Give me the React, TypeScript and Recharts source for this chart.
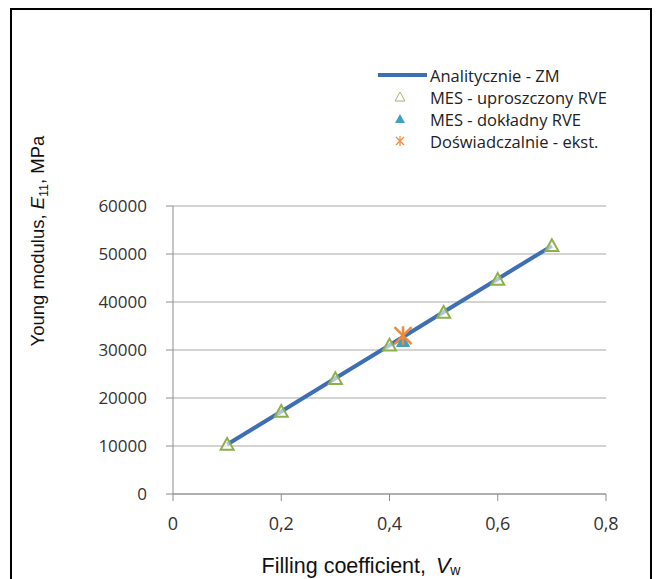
import React from 'react';
import { ScatterChart, Scatter, XAxis, YAxis, CartesianGrid, Legend, Label } from 'recharts';

const fillingCoeff = [0.1, 0.2, 0.3, 0.4, 0.5, 0.6, 0.7];
const analyticValues = [10300, 17200, 24100, 31000, 37900, 44800, 51700];
const simplifiedValues = [10300, 17200, 24000, 31000, 37800, 44700, 51700];
const exactX = [0.425];
const exactValues = [31800];
const experimentX = [0.425];
const experimentValues = [33000];
const xTicks = [0, 0.2, 0.4, 0.6, 0.8];
const yTicks = [0, 10000, 20000, 30000, 40000, 50000, 60000];

const legendNames = [
  'Analitycznie - ZM',
  'MES - uproszczony RVE',
  'MES - dokładny RVE',
  'Doświadczalnie - ekst.',
];

const analyticData = fillingCoeff.map((x, i) => ({ x, y: analyticValues[i] }));
const simplifiedData = fillingCoeff.map((x, i) => ({ x, y: simplifiedValues[i] }));
const exactData = exactX.map((x, i) => ({ x, y: exactValues[i] }));
const experimentData = experimentX.map((x, i) => ({ x, y: experimentValues[i] }));

const BLUE = '#3D6FB4';
const GREEN = '#8DB04A';
const TEAL = '#3FA2BE';
const ORANGE = '#EE8A3E';
const W = 656;
const H = 579;

const OpenTri = (props: any) => {
  const { cx, cy } = props;
  if (cx == null || cy == null) return null;
  const s = 6.5;
  return (
    <polygon
      points={`${cx},${cy - s} ${cx - s},${cy + s * 0.8} ${cx + s},${cy + s * 0.8}`}
      fill="#fff"
      fillOpacity={0.6}
      stroke={GREEN}
      strokeWidth={2}
    />
  );
};

const FilledTri = (props: any) => {
  const { cx, cy } = props;
  if (cx == null || cy == null) return null;
  const s = 6.5;
  return (
    <polygon
      points={`${cx},${cy - s} ${cx - s},${cy + s * 0.8} ${cx + s},${cy + s * 0.8}`}
      fill={TEAL}
      stroke={TEAL}
      strokeWidth={1}
    />
  );
};

const Star = (props: any) => {
  const { cx, cy } = props;
  if (cx == null || cy == null) return null;
  const s = 8.5;
  return (
    <g stroke={ORANGE} strokeWidth={2.5}>
      <line x1={cx - s} y1={cy - s} x2={cx + s} y2={cy + s} />
      <line x1={cx - s} y1={cy + s} x2={cx + s} y2={cy - s} />
      <line x1={cx} y1={cy - s * 1.1} x2={cx} y2={cy + s * 1.1} />
    </g>
  );
};

const NoShape = () => null;

const LegendContent = () => {
  const icons = [
    <line key="l" x1={2} y1={10} x2={51} y2={10} stroke={BLUE} strokeWidth={4} />,
    <polygon key="t" points="24,5 19,14 29,14" fill="none" stroke="#9DB86A" strokeWidth={1} />,
    <polygon key="f" points="24,5 19,14 29,14" fill={TEAL} />,
    <g key="s" stroke={ORANGE} strokeWidth={1.2}>
      <line x1={20} y1={6} x2={28} y2={14} />
      <line x1={20} y1={14} x2={28} y2={6} />
      <line x1={24} y1={5} x2={24} y2={15} />
    </g>,
  ];
  return (
    <div style={{ fontFamily: '"Open Sans", sans-serif', fontSize: 16.5, color: '#222' }}>
      {legendNames.map((n, i) => (
        <div key={n} style={{ display: 'flex', alignItems: 'center', height: 22 }}>
          <svg width={54} height={20}>{icons[i]}</svg>
          <span style={{ whiteSpace: 'nowrap' }}>{n}</span>
        </div>
      ))}
    </div>
  );
};

export default function App() {
  return (
    <div style={{ position: 'relative', width: W, height: H, overflow: 'hidden', background: '#fff' }}>
      <style>{`html,body{margin:0;padding:0;overflow:hidden;background:#fff}`}</style>
      <div
        style={{
          position: 'absolute',
          left: 10,
          top: 8,
          width: 642,
          height: 640,
          border: '2px solid #000',
          boxSizing: 'border-box',
        }}
      />
      <div style={{ position: 'absolute', left: 0, top: 0 }}>
        <ScatterChart width={W} height={H} margin={{ top: 206, right: 50, bottom: 0, left: 0 }}>
          <CartesianGrid horizontal vertical={false} stroke="#A8A8A8" strokeWidth={1} />
          <XAxis
            type="number"
            dataKey="x"
            domain={[0, 0.8]}
            ticks={xTicks}
            height={85}
            axisLine={{ stroke: '#8C8C8C' }}
            tickLine={{ stroke: '#8C8C8C' }}
            tickSize={7}
            tickMargin={16}
            tickFormatter={(v: number) => String(v).replace('.', ',')}
            tick={{ fill: '#333', fontSize: 18, fontFamily: '"Open Sans", sans-serif' }}
            interval={0}
          >
            <Label
              content={() => (
                <text x={361} y={573} textAnchor="middle" fontFamily='"Liberation Sans", Arial, sans-serif' fontSize={21.5} fill="#111">
                  Filling coefficient,
                  <tspan dx={10} fontStyle="italic">V</tspan>
                  <tspan fontSize={14} dy={2}>w</tspan>
                </text>
              )}
            />
          </XAxis>
          <YAxis
            type="number"
            dataKey="y"
            domain={[0, 60000]}
            ticks={yTicks}
            width={173}
            axisLine={{ stroke: '#8C8C8C' }}
            tickLine={{ stroke: '#8C8C8C' }}
            tickSize={7}
            tickMargin={19}
            tick={{ fill: '#333', fontSize: 17, fontFamily: '"Open Sans", sans-serif' }}
            interval={0}
          >
            <Label
              content={() => (
                <text
                  x={44}
                  y={241}
                  textAnchor="middle"
                  transform="rotate(-90 44 241)"
                  fontFamily='"Liberation Sans", Arial, sans-serif'
                  fontSize={18.5}
                  fill="#111"
                >
                  Young modulus,{' '}
                  <tspan fontStyle="italic">E</tspan>
                  <tspan fontSize={12.5} dy={4}>11</tspan>
                  <tspan dy={-4}>, MPa</tspan>
                </text>
              )}
            />
          </YAxis>
          <Legend
            layout="vertical"
            align="center"
            verticalAlign="middle"
            content={<LegendContent />}
            wrapperStyle={{ position: 'absolute', top: 64, left: 376, width: 'auto' }}
          />
          <Scatter
            name={legendNames[0]}
            data={analyticData}
            line={{ stroke: BLUE, strokeWidth: 4 }}
            shape={NoShape}
            isAnimationActive={false}
          />
          <Scatter name={legendNames[1]} data={simplifiedData} shape={OpenTri} isAnimationActive={false} />
          <Scatter name={legendNames[2]} data={exactData} shape={FilledTri} isAnimationActive={false} />
          <Scatter name={legendNames[3]} data={experimentData} shape={Star} isAnimationActive={false} />
        </ScatterChart>
      </div>
    </div>
  );
}
